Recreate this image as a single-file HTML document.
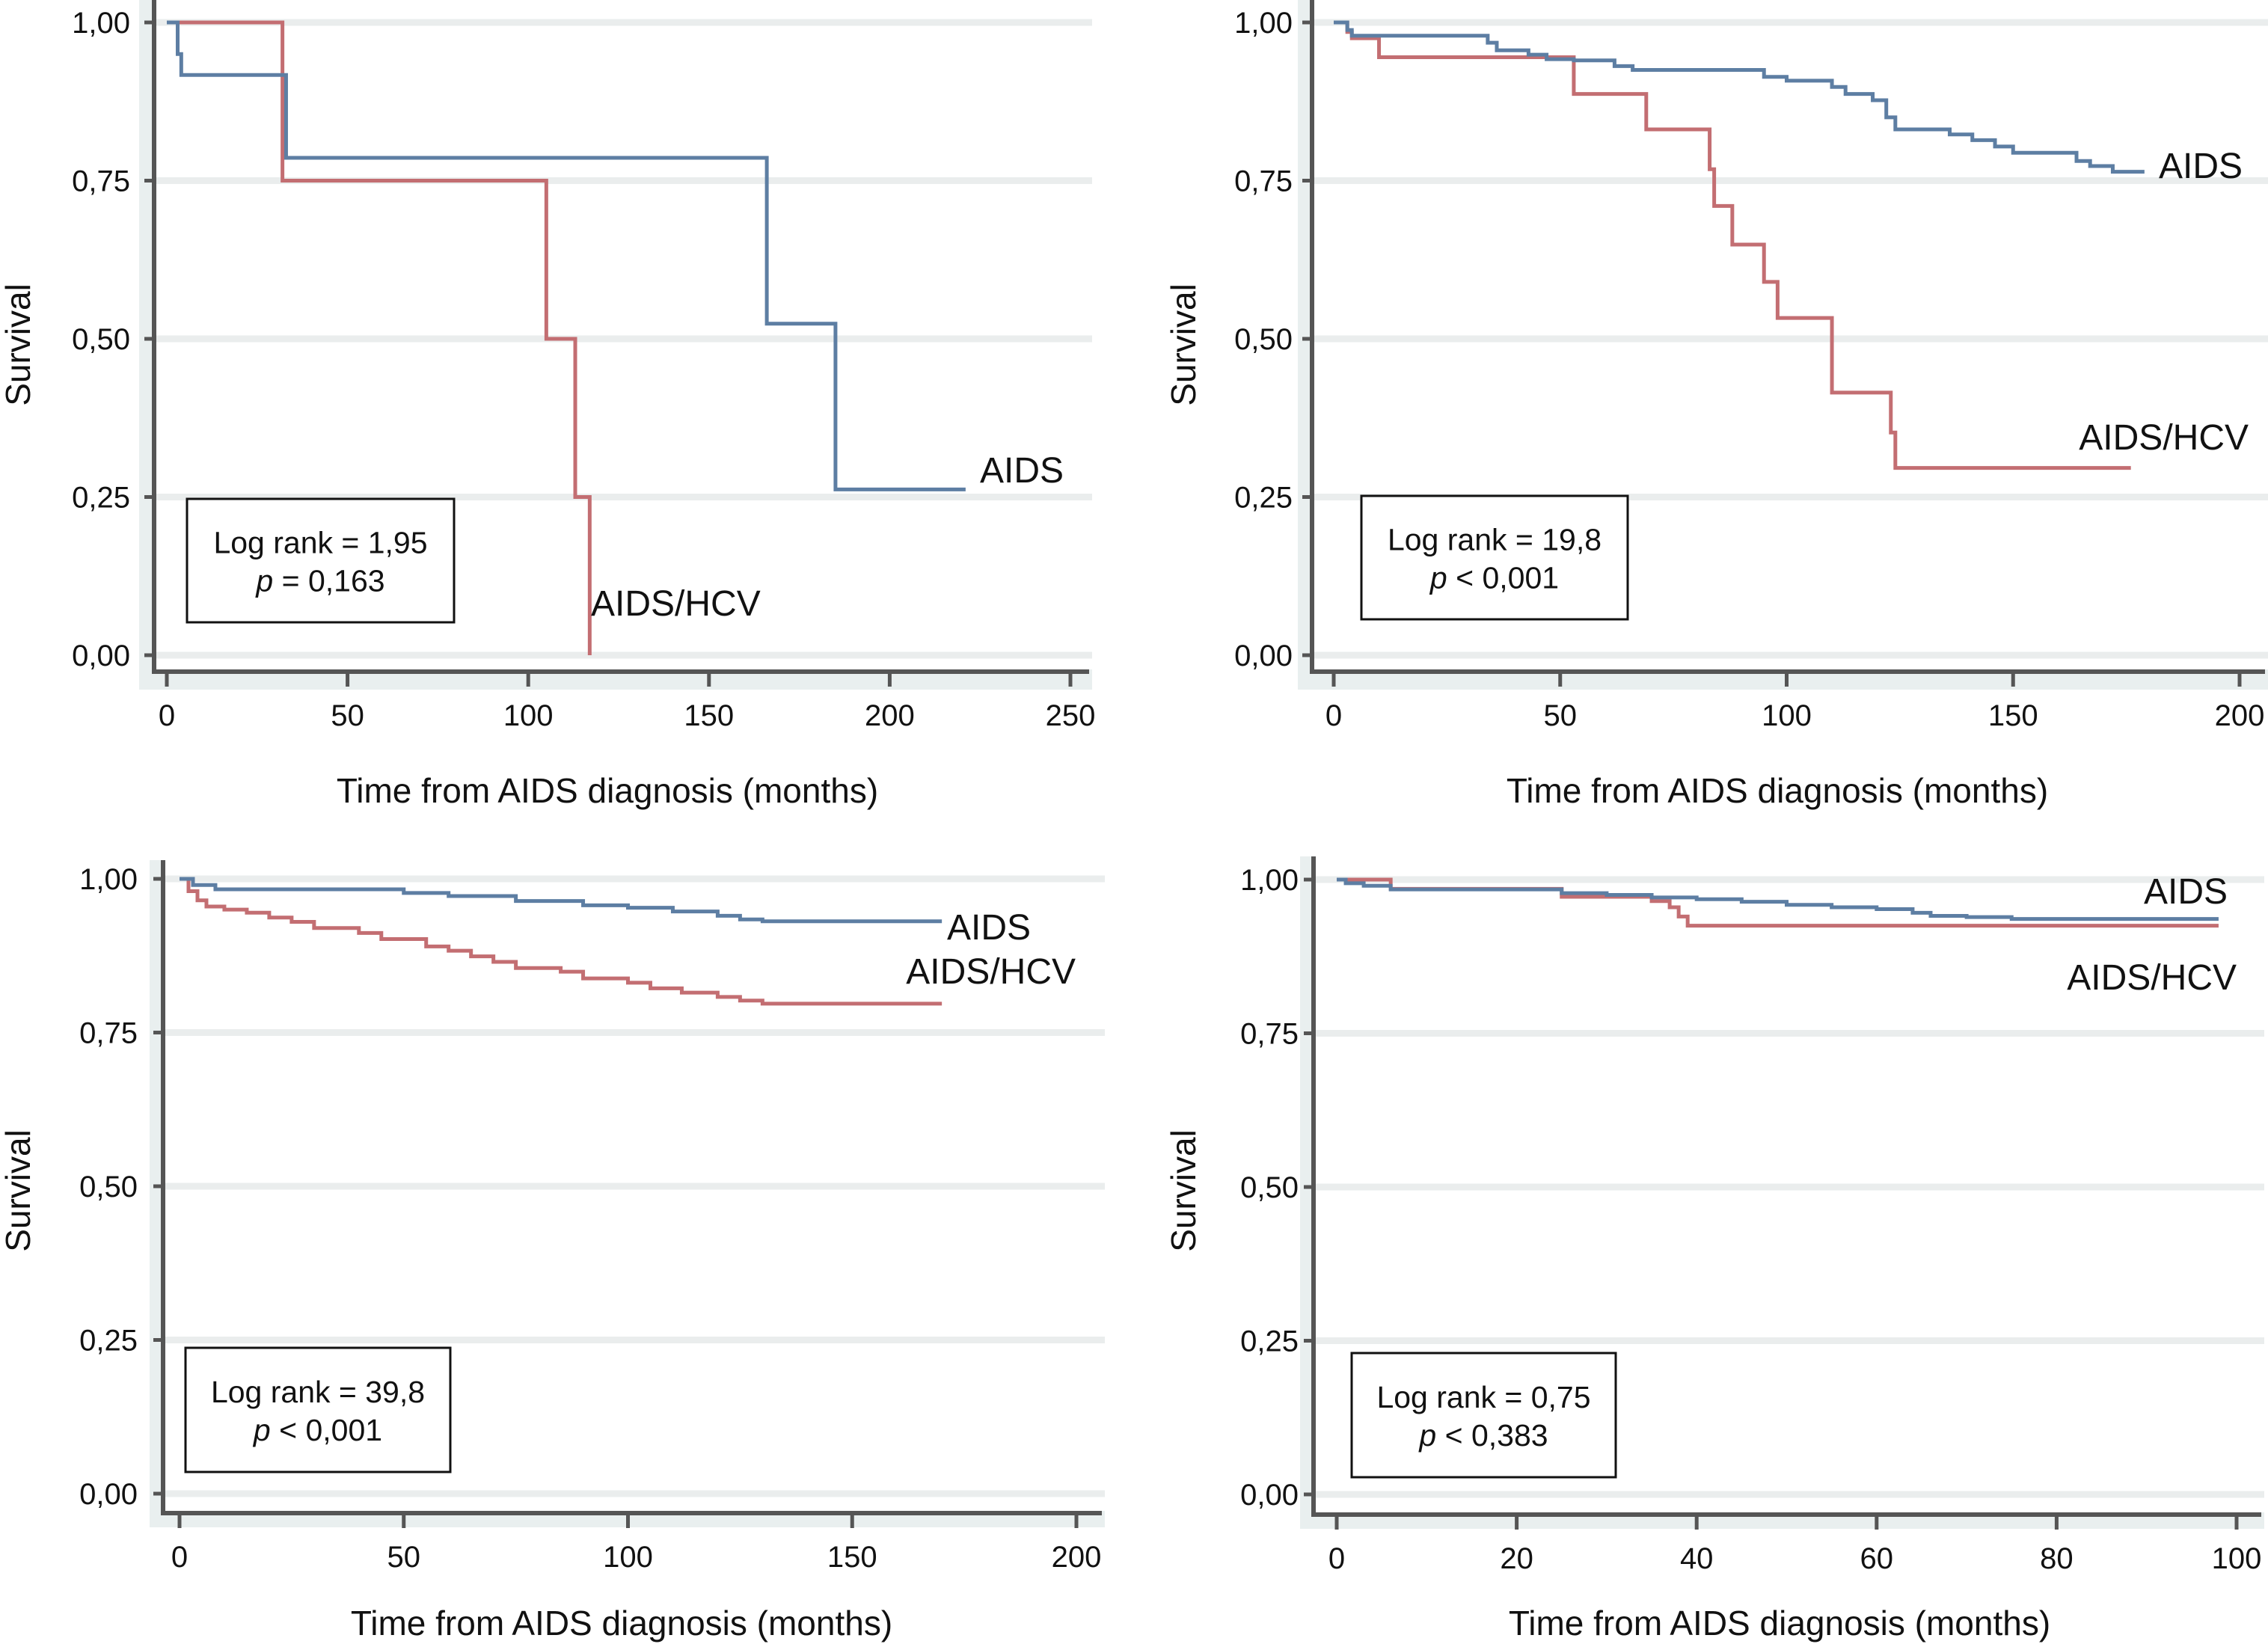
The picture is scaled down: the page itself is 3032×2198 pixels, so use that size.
<!DOCTYPE html>
<html><head><meta charset="utf-8"><style>
html,body{margin:0;padding:0;background:#fff;}
svg{display:block;font-family:"Liberation Sans",Arial,sans-serif;}
</style></head><body>
<svg id="fig" width="3032" height="2198" viewBox="0 0 3032 2198" xmlns="http://www.w3.org/2000/svg"></svg>
<script>
// ---- data (months, survival) ----
const p1Ticks = [0,50,100,150,200,250];
const p1AidsT = [0,3,4,33,166,185,221];
const p1AidsS = [1.0,0.95,0.917,0.786,0.524,0.262,0.262];
const p1HcvT = [0,32,105,113,117,117];
const p1HcvS = [1.0,0.75,0.50,0.25,0.0,0.0];

const p2Ticks = [0,50,100,150,200];
const p2AidsT = [0,3,4,34,36,43,47,53,62,66,95,100,110,113,119,122,124,136,141,146,150,164,167,172,179];
const p2AidsS = [1.0,0.988,0.979,0.968,0.956,0.949,0.942,0.94,0.931,0.925,0.914,0.908,0.898,0.887,0.877,0.85,0.831,0.823,0.814,0.804,0.794,0.781,0.773,0.764,0.764];
const p2HcvT = [0,3,4,10,53,69,83,84,88,95,98,110,123,124,176];
const p2HcvS = [1.0,0.985,0.975,0.945,0.887,0.831,0.768,0.71,0.649,0.59,0.533,0.415,0.352,0.296,0.296];

const p3Ticks = [0,50,100,150,200];
const p3AidsT = [0,3,8,50,60,75,90,100,110,120,125,130,170];
const p3AidsS = [1.0,0.99,0.983,0.977,0.972,0.964,0.957,0.953,0.947,0.94,0.934,0.931,0.931];
const p3HcvT = [0,2,4,6,10,15,20,25,30,40,45,55,60,65,70,75,85,90,100,105,112,120,125,130,170];
const p3HcvS = [1.0,0.98,0.965,0.955,0.95,0.945,0.937,0.93,0.92,0.912,0.902,0.89,0.883,0.874,0.865,0.855,0.849,0.838,0.831,0.822,0.815,0.808,0.802,0.797,0.797];

const p4Ticks = [0,20,40,60,80,100];
const p4AidsT = [0,1,3,6,25,30,35,40,45,50,55,60,64,66,70,75,98];
const p4AidsS = [1.0,0.994,0.99,0.984,0.978,0.975,0.971,0.968,0.964,0.959,0.955,0.952,0.946,0.941,0.939,0.936,0.936];
const p4HcvT = [0,6,25,35,37,38,39,98];
const p4HcvS = [1.0,0.985,0.972,0.965,0.955,0.94,0.925,0.925];

const yTickVals = [0,0.25,0.5,0.75,1.0];
const yTickLabels = ["0,00","0,25","0,50","0,75","1,00"];

const NS = "http://www.w3.org/2000/svg";
const svg = document.getElementById('fig');
function mk(tag, attrs, parent){
  const e = document.createElementNS(NS, tag);
  for (const k in attrs) e.setAttribute(k, attrs[k]);
  (parent||svg).appendChild(e);
  return e;
}
const BLUE = "#5d7ea3", RED = "#c36e72";

function panel(c){
  const g = mk('g', {});
  
  
  const xs = v => c.x0 + (v - c.xMin) / (c.xMax - c.xMin) * (c.x1 - c.x0);
  const ys = v => c.y0 + (1 - v) * (c.y1 - c.y0);
  const bg = mk('rect', {x:c.bgL, y:c.bgT, width:c.bgR-c.bgL, height:c.bgB-c.bgT, fill:'#e9efef'}, g);
  
  
  const pa = mk('rect', {x:c.ax+3, y:c.bgT, width:c.bgR-c.ax-3, height:c.axY-3-c.bgT, fill:'#ffffff'}, g);
  
  
  yTickVals.forEach((v,i) => {
    const gl = mk('line', {x1:c.ax+3, x2:c.bgR, y1:ys(v), y2:ys(v), stroke:'#eaeded', 'stroke-width':9}, g);
    
    
    const tk = mk('line', {x1:c.ax-13, x2:c.ax, y1:ys(v), y2:ys(v), stroke:'#555', 'stroke-width':5}, g);
    
    
    const t = mk('text', {x:c.yLabX, y:ys(v)+14, 'text-anchor':'end', 'font-size':40, fill:'#111'}, g);
    t.textContent = yTickLabels[i];
    
    
  });
  const ya = mk('line', {x1:c.ax, x2:c.ax, y1:c.bgT, y2:c.axY, stroke:'#555', 'stroke-width':6}, g);
  
  
  const xa = mk('line', {x1:c.ax-3, x2:c.bgR-4, y1:c.axY, y2:c.axY, stroke:'#555', 'stroke-width':6}, g);
  
  
  c.ticks.forEach(v => {
    const tk = mk('line', {x1:xs(v), x2:xs(v), y1:c.axY, y2:c.axY+20, stroke:'#555', 'stroke-width':5}, g);
    
    
    const t = mk('text', {x:xs(v), y:c.axY+72, 'text-anchor':'middle', 'font-size':40, fill:'#111'}, g);
    t.textContent = String(v);
    
    
  });
  function step(T, S){
    let d = 'M' + xs(T[0]) + ',' + ys(S[0]);
    for (let i=1;i<T.length;i++){
      d += ' H' + xs(T[i]) + ' V' + ys(S[i]);
    }
    return d;
  }
  const hc = mk('path', {d:step(c.hT,c.hS), fill:'none', stroke:RED, 'stroke-width':5}, g);
  
  
  const ac = mk('path', {d:step(c.aT,c.aS), fill:'none', stroke:BLUE, 'stroke-width':5}, g);
  
  
  const la = mk('text', {x:c.aLab[0], y:c.aLab[1], 'text-anchor':c.aLab[2], 'font-size':48, fill:'#111'}, g);
  la.textContent = 'AIDS';
  
  
  const lh = mk('text', {x:c.hLab[0], y:c.hLab[1], 'text-anchor':c.hLab[2], 'font-size':48, fill:'#111'}, g);
  lh.textContent = 'AIDS/HCV';
  
  
  const bx = mk('rect', {x:c.box[0], y:c.box[1], width:c.box[2]-c.box[0], height:c.box[3]-c.box[1], fill:'#fff', stroke:'#111', 'stroke-width':3}, g);
  
  
  const cx = (c.box[0]+c.box[2])/2, cy = (c.box[1]+c.box[3])/2;
  const t1 = mk('text', {x:cx, y:cy-10, 'text-anchor':'middle', 'font-size':41, fill:'#111'}, g);
  t1.textContent = c.stat1;
  
  
  const t2 = mk('text', {x:cx, y:cy+41, 'text-anchor':'middle', 'font-size':41, fill:'#111'}, g);
  
  
  const ti = mk('tspan', {'font-style':'italic'}, t2); ti.textContent = 'p';
  const tr = mk('tspan', {}, t2); tr.textContent = c.stat2;
  const yt = mk('text', {x:0, y:0, transform:`translate(${c.yTitX},${c.yTitY}) rotate(-90)`, 'text-anchor':'middle', 'font-size':46, fill:'#111'}, g);
  yt.textContent = 'Survival';
  
  
  const xt = mk('text', {x:c.xTitX, y:c.xTitY, 'text-anchor':'middle', 'font-size':46, fill:'#111'}, g);
  xt.textContent = 'Time from AIDS diagnosis (months)';
  
  
}

panel({name:'panel-top-left', bgL:186, bgR:1460, bgT:0, bgB:922, ax:206, axY:898,
  x0:223, x1:1431, xMin:0, xMax:250, y0:30, y1:876, ticks:p1Ticks, yLabX:174,
  aT:p1AidsT, aS:p1AidsS, hT:p1HcvT, hS:p1HcvS,
  aLab:[1310,645,'start'], hLab:[790,823,'start'],
  box:[250,667,607,832], stat1:'Log rank = 1,95', stat2:' = 0,163',
  yTitX:40, yTitY:461, xTitX:812, xTitY:1073});

panel({name:'panel-top-right', bgL:1735, bgR:3032, bgT:0, bgB:922, ax:1754, axY:898,
  x0:1783, x1:2994, xMin:0, xMax:200, y0:30, y1:876, ticks:p2Ticks, yLabX:1728,
  aT:p2AidsT, aS:p2AidsS, hT:p2HcvT, hS:p2HcvS,
  aLab:[2886,238,'start'], hLab:[3006,601,'end'],
  box:[1820,663,2176,828], stat1:'Log rank = 19,8', stat2:' < 0,001',
  yTitX:1598, yTitY:461, xTitX:2376, xTitY:1073});

panel({name:'panel-bottom-left', bgL:200, bgR:1477, bgT:1150, bgB:2042, ax:218, axY:2023,
  x0:240, x1:1439, xMin:0, xMax:200, y0:1175, y1:1997, ticks:p3Ticks, yLabX:184,
  aT:p3AidsT, aS:p3AidsS, hT:p3HcvT, hS:p3HcvS,
  aLab:[1266,1256,'start'], hLab:[1438,1315,'end'],
  box:[248,1802,602,1968], stat1:'Log rank = 39,8', stat2:' < 0,001',
  yTitX:40, yTitY:1592, xTitX:831, xTitY:2186});

panel({name:'panel-bottom-right', bgL:1738, bgR:3027, bgT:1145, bgB:2044, ax:1756, axY:2025,
  x0:1787, x1:2990, xMin:0, xMax:100, y0:1176, y1:1998, ticks:p4Ticks, yLabX:1736,
  aT:p4AidsT, aS:p4AidsS, hT:p4HcvT, hS:p4HcvS,
  aLab:[2978,1208,'end'], hLab:[2990,1323,'end'],
  box:[1807,1809,2160,1975], stat1:'Log rank = 0,75', stat2:' < 0,383',
  yTitX:1598, yTitY:1592, xTitX:2379, xTitY:2186});
</script>
</body></html>
